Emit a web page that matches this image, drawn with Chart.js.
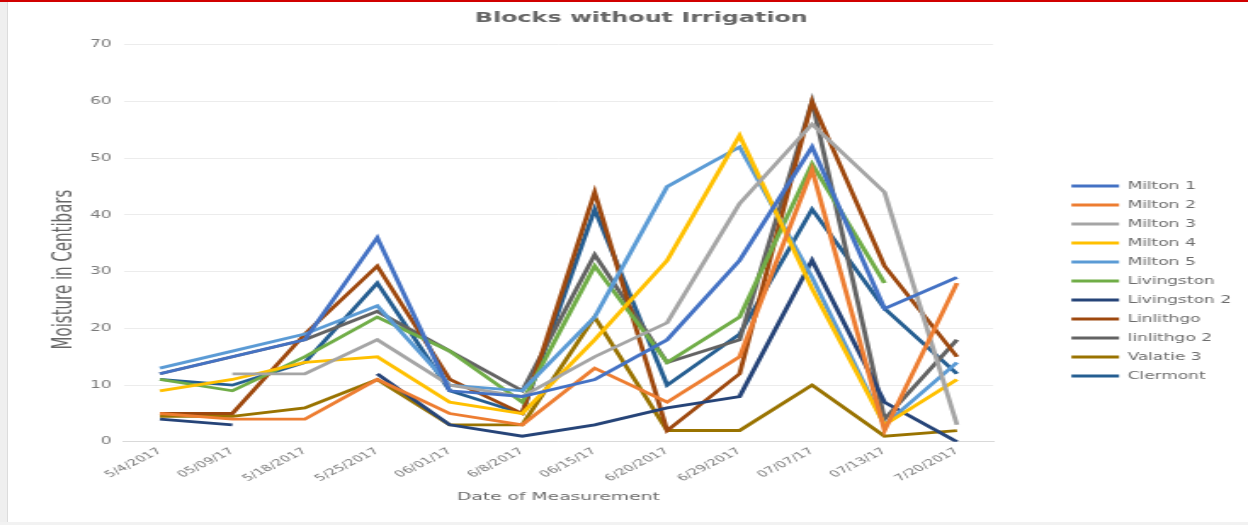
<!DOCTYPE html>
<html>
<head>
<meta charset="utf-8">
<title>Blocks without Irrigation</title>
<script src="https://cdn.jsdelivr.net/npm/chart.js@4.4.0/dist/chart.umd.min.js"></script>
<style>
    html, body { margin: 0; padding: 0; background: #fff; overflow: hidden; }
    #frame { position: relative; width: 1248px; height: 525px; }
    #wrap { position: absolute; left: 0; top: 0; width: 734px; height: 525px; transform: scaleX(1.70027); transform-origin: 0 0; }
    #topbar { position: absolute; left: 0; top: 0; width: 1248px; height: 2px; background: #d10000; z-index: 2; }
    #leftbar { position: absolute; left: 0; top: 2px; width: 7px; height: 523px; background: #efefef; border-right: 1px solid #dcdcdc; z-index: 2; }
    #bottombar { position: absolute; left: 0; top: 522px; width: 1248px; height: 3px; background: #f2f2f2; z-index: 2; }
</style>
</head>
<body>
<div id="frame">
    <div id="wrap"><canvas id="moistureChart"></canvas></div>
    <div id="topbar"></div>
    <div id="leftbar"></div>
    <div id="bottombar"></div>
</div>
<script>
// tanggal pengukuran (sumbu x)
var dates = ['5/4/2017', '05/09/17', '5/18/2017', '5/25/2017', '06/01/17', '6/8/2017',
    '06/15/17', '6/20/2017', '6/29/2017', '07/07/17', '07/13/17', '7/20/2017'];

// nilai kelembaban tiap blok (centibars)
var milton1 = [12, 15, 18, 36, 9, 8, 11, 18, 32, 52, 23.5, 29];
var milton2 = [5, 4, 4, 11, 5, 3, 13, 7, 15, 48, 2, 28];
var milton3 = [null, 12, 12, 18, 10, 8, 15, 21, 42, 56, 44, 3];
var milton4 = [9, 11, 14, 15, 7, 5, 18, 32, 54, 27, 3, 11];
var milton5 = [13, 16, 19, 24, 10, 9, 22, 45, 52, 29, 3, 14];
var livingston = [11, 9, 15, 22, 16, 7, 31, 14, 22, 49, 28, null];
var livingston2 = [4, 3, null, 12, 3, 1, 3, 6, 8, 32, 7, 0];
var linlithgo = [5, 5, 19, 31, 11, 5, 44, 2, 12, 60, 31, 15];
var linlithgo2 = [12, 15, 18, 23, 16, 9, 33, 14, 18, 60, 4, 18];
var valatie3 = [4.5, 4.5, 6, 11, 3, 3, 22, 2, 2, 10, 1, 2];
var clermont = [11, 10, 14, 28, 9, 5, 41, 10, 19, 41, 23.5, 12];

var seriesNames = ['Milton 1', 'Milton 2', 'Milton 3', 'Milton 4', 'Milton 5', 'Livingston',
    'Livingston 2', 'Linlithgo', 'linlithgo 2', 'Valatie 3', 'Clermont'];
var seriesData = [milton1, milton2, milton3, milton4, milton5, livingston,
    livingston2, linlithgo, linlithgo2, valatie3, clermont];

var yTicks = [0, 10, 20, 30, 40, 50, 60, 70];

// warna garis (palet Excel)
var colors = ['#4472C4', '#ED7D31', '#A5A5A5', '#FFC000', '#5B9BD5', '#70AD47',
    '#264478', '#9E480E', '#636363', '#997300', '#255E91'];

var datasets = seriesNames.map(function (name, i) {
    return {
        label: name,
        data: seriesData[i],
        borderColor: colors[i],
        backgroundColor: colors[i],
        fill: false
    };
});

var ctx = document.getElementById('moistureChart').getContext('2d');
var moistureChart = new Chart(ctx, {
    type: 'line',
    data: {
        labels: dates,
        datasets: datasets
    },
    options: {
        responsive: true,
        maintainAspectRatio: false,
        animation: false,
        layout: {
            padding: { left: 30, right: 0, top: 0, bottom: 21 }
        },
        elements: {
            point: { radius: 0, hoverRadius: 0 },
            line: { borderWidth: 2.8, tension: 0 }
        },
        plugins: {
            title: {
                display: true,
                text: 'Blocks without Irrigation\u00a0\u00a0',
                color: '#666666',
                font: { family: 'DejaVu Sans', size: 14, weight: 'bold' },
                padding: { top: 10, bottom: 18 }
            },
            legend: {
                position: 'right',
                onClick: function (e) {
                    e.stopPropagation();
                },
                // judul kosong hanya untuk menggeser legenda ke bawah
                title: {
                    display: true,
                    text: ' ',
                    font: { family: 'DejaVu Sans', size: 10 },
                    padding: { top: 46, bottom: 0 }
                },
                labels: {
                    boxWidth: 28,
                    boxHeight: 3,
                    padding: 9,
                    color: '#6b6b6b',
                    font: { family: 'DejaVu Sans', size: 10 },
                    generateLabels: function (chart) {
                        var items = Chart.defaults.plugins.legend.labels.generateLabels(chart);
                        items.forEach(function (it) { it.lineWidth = 0; });
                        return items;
                    }
                }
            },
            tooltip: { enabled: false }
        },
        scales: {
            x: {
                offset: true,
                grid: { display: false, drawTicks: false },
                border: { color: '#d9d9d9' },
                ticks: {
                    minRotation: 40,
                    maxRotation: 40,
                    color: '#7a7a7a',
                    padding: 4,
                    font: { family: 'DejaVu Sans', size: 9 }
                },
                title: {
                    display: true,
                    text: 'Date of Measurement',
                    color: '#6b6b6b',
                    font: { family: 'DejaVu Sans', size: 11 },
                    padding: { top: 3, bottom: 0 }
                }
            },
            y: {
                min: 0,
                max: 70,
                afterBuildTicks: function (scale) {
                    scale.ticks = yTicks.map(function (v) { return { value: v }; });
                },
                grid: { color: '#ececec', drawTicks: false },
                border: { display: false },
                ticks: {
                    color: '#7a7a7a',
                    padding: 7,
                    font: { family: 'DejaVu Sans', size: 10 }
                },
                title: {
                    display: true,
                    text: 'Moisture in Centibars\u00a0\u00a0\u00a0\u00a0\u00a0\u00a0\u00a0\u00a0\u00a0\u00a0\u00a0',
                    color: '#666666',
                    font: { family: 'DejaVu Sans', size: 15, lineHeight: 1 },
                    padding: { top: 1, bottom: 0 }
                }
            },
            // sumbu kosong, hanya untuk jarak antara plot dan legenda
            gap: {
                type: 'linear',
                position: 'right',
                grid: { display: false },
                border: { display: false },
                ticks: { display: false },
                afterFit: function (scale) {
                    scale.width = 37;
                }
            }
        }
    }
});
</script>
</body>
</html>
